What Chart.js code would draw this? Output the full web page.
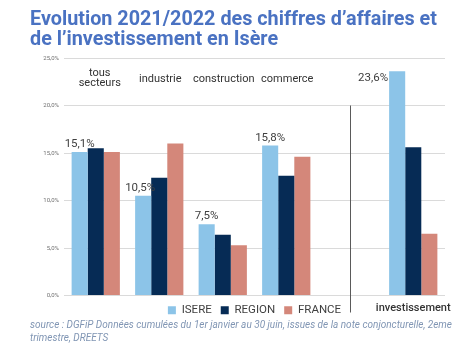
<!DOCTYPE html>
<html>
<head>
<meta charset="utf-8">
<script src="https://cdn.jsdelivr.net/npm/chart.js@4"></script>
<style>
  body { margin: 0; background: #fff; width: 472px; height: 348px; overflow: hidden; position: relative; font-family: Roboto, sans-serif; }
  #titre { position: absolute; left: 30px; top: 9px; margin: 0; font-size: 19.8px; line-height: 20px; font-weight: bold; color: #4a72c2; z-index: 2; }
  #zone { position: absolute; left: 0; top: 0; width: 472px; height: 326px; }
  #source { position: absolute; left: 30px; top: 319px; font-size: 10px; line-height: 12.5px; font-style: italic; color: #8196b4; white-space: nowrap; }
</style>
</head>
<body>
<h1 id="titre">Evolution 2021/2022 des chiffres d’affaires et<br>de l’investissement en Isère</h1>
<div id="zone"><canvas id="graphe"></canvas></div>
<div id="source">source : DGFiP Données cumulées du 1er janvier au 30 juin, issues de la note conjoncturelle, 2eme<br>trimestre, DREETS</div>
<script>
// donnees (en %)
const secteurs = ['tous secteurs', 'industrie', 'construction', 'commerce', '', 'investissement']
const isere = [15.1, 10.5, 7.5, 15.8, null, 23.6]
const region = [15.5, 12.4, 6.4, 12.6, null, 15.6]
const france = [15.1, 16.0, 5.3, 14.6, null, 6.5]
const etiquettes = ['15,1%', '10,5%', '7,5%', '15,8%', '', '23,6%']
const graduations = [0, 5, 10, 15, 20, 25]

const couleurs = ['#8cc4e8', '#062b55', '#d4877a']

function pourcent(v){
    return v.toFixed(1).replace('.', ',') + '%'
}

// textes des secteurs, etiquettes de valeurs et trait de separation
const decor = {
    id: 'decor',
    afterDatasetsDraw(chart){
        const ctx = chart.ctx
        const x = chart.scales.x
        const y = chart.scales.y
        const barres = chart.getDatasetMeta(0).data
        ctx.save()

        // trait vertical entre commerce et investissement
        const xs = x.getPixelForValue(4)
        ctx.strokeStyle = '#5a5a5a'
        ctx.lineWidth = 1
        ctx.beginPath()
        ctx.moveTo(Math.round(xs) + 0.5, y.getPixelForValue(20))
        ctx.lineTo(Math.round(xs) + 0.5, chart.chartArea.bottom + 17)
        ctx.stroke()

        // noms des secteurs en haut
        ctx.fillStyle = '#333333'
        ctx.font = '11px Roboto'
        ctx.textAlign = 'center'
        ctx.textBaseline = 'middle'
        ctx.fillText('tous', x.getPixelForValue(0) + 4, 73)
        ctx.fillText('secteurs', x.getPixelForValue(0) + 4, 83)
        for (let i = 1; i < 4; i++) {
            ctx.fillText(secteurs[i], x.getPixelForValue(i) + 1, 79)
        }
        ctx.font = '500 11px Roboto'
        ctx.fillText(secteurs[5], x.getPixelForValue(5), chart.chartArea.bottom + 13)

        // valeurs ISERE
        ctx.fillStyle = '#404040'
        ctx.font = '11.5px Roboto'
        for (let i = 0; i < 4; i++) {
            ctx.textBaseline = 'bottom'
            ctx.textAlign = 'center'
            ctx.fillText(etiquettes[i], barres[i].x - (i == 1 ? 3 : 0), barres[i].y - 2)
        }
        ctx.textAlign = 'right'
        ctx.textBaseline = 'middle'
        ctx.fillText(etiquettes[5], barres[5].x - 9, barres[5].y + 7)
        ctx.restore()
    }
}

const ctx = document.getElementById('graphe').getContext('2d')
const myChart = new Chart(ctx, {
    type: 'bar',
    data: {
        labels: secteurs,
        datasets: [
            { label: 'ISERE', data: isere, backgroundColor: couleurs[0], borderWidth: 0 },
            { label: 'REGION', data: region, backgroundColor: couleurs[1], borderWidth: 0 },
            { label: 'FRANCE', data: france, backgroundColor: couleurs[2], borderWidth: 0 }
        ]
    },
    options: {
        responsive: true,
        maintainAspectRatio: false,
        animation: false,
        layout: { padding: { top: 58, right: 27, left: 0, bottom: 0 } },
        datasets: { bar: { categoryPercentage: 0.76, barPercentage: 1 } },
        plugins: {
            legend: {
                display: true,
                position: 'bottom',
                fullSize: false,
                labels: {
                    boxWidth: 8,
                    boxHeight: 8,
                    padding: 9,
                    color: '#404040',
                    font: { family: 'Roboto', size: 11.5 }
                }
            },
            tooltip: { enabled: false }
        },
        scales: {
            x: {
                ticks: { display: false },
                grid: { display: false, drawTicks: false },
                border: { display: false }
            },
            y: {
                min: 0,
                max: 25,
                afterFit(scale){ scale.width = 64 },
                afterBuildTicks(scale){ scale.ticks = graduations.map(v => ({ value: v })) },
                ticks: {
                    color: '#707070',
                    padding: 5,
                    font: { family: 'Roboto', size: 6 },
                    callback: function(v){ return pourcent(v) }
                },
                grid: { color: '#dadada', lineWidth: 1, drawTicks: false },
                border: { display: false }
            }
        }
    },
    plugins: [decor]
})
</script>
</body>
</html>
